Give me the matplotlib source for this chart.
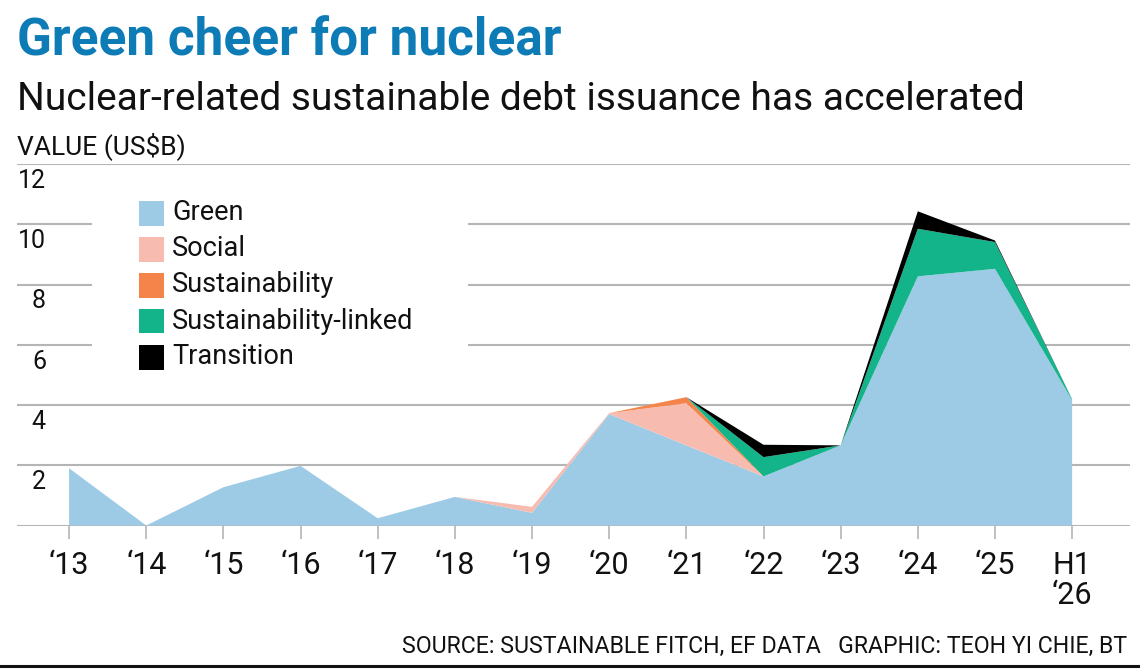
import matplotlib
matplotlib.use("Agg")
import matplotlib.pyplot as plt
import matplotlib.transforms as mtransforms
from matplotlib.patches import Rectangle
import numpy as np

# data (US$ billion)
years = ["\u201813", "\u201814", "\u201815", "\u201816", "\u201817", "\u201818", "\u201819",
         "\u201820", "\u201821", "\u201822", "\u201823", "\u201824", "\u201825", "H1\n\u201826"]
green = [1.90, 0.00, 1.27, 1.98, 0.24, 0.95, 0.42, 3.70, 2.66, 1.63, 2.66, 8.27, 8.52, 4.16]
social = [0.00, 0.00, 0.00, 0.00, 0.00, 0.00, 0.20, 0.03, 1.40, 0.00, 0.00, 0.00, 0.00, 0.00]
sustainability = [0.00, 0.00, 0.00, 0.00, 0.00, 0.00, 0.00, 0.00, 0.20, 0.00, 0.00, 0.00, 0.00, 0.00]
sus_linked = [0.00, 0.00, 0.00, 0.00, 0.00, 0.00, 0.00, 0.00, 0.00, 0.64, 0.00, 1.58, 0.89, 0.03]
transition = [0.00, 0.00, 0.00, 0.00, 0.00, 0.00, 0.00, 0.00, 0.00, 0.41, 0.00, 0.58, 0.05, 0.00]

series_names = ["Green", "Social", "Sustainability", "Sustainability-linked", "Transition"]
colours = ["#9dcbe6", "#f8bbb0", "#f4844a", "#14b48a", "#000000"]
y_ticks = [2, 4, 6, 8, 10, 12]

W, H = 1140, 669
fig = plt.figure(figsize=(W / 100, H / 100), dpi=100)
plt.rcParams['font.family'] = ['Roboto', 'DejaVu Sans']

# axes placed in pixel terms: x from 17 to 1130, y=0 at 525.5, y=12 at 164
ax = fig.add_axes([17 / W, 1 - 525.5 / H, (1130 - 17) / W, (525.5 - 164) / H])
x = np.arange(len(years))
ax.set_xlim(-0.675, 13.75)
ax.set_ylim(0, 12)

ax.stackplot(x, green, social, sustainability, sus_linked, transition,
             colors=colours, linewidth=0, zorder=2)

# gridlines behind the areas
for yv in [0] + y_ticks:
    ax.axhline(yv, color='#b5b5b5', lw=1.5, zorder=1)

for s in ax.spines.values():
    s.set_visible(False)
ax.set_yticks([])
ax.set_xticks(x)
ax.set_xticklabels(years, fontsize=22, linespacing=1.05)
ax.tick_params(axis='x', length=9, width=1.2, color='#b5b5b5', pad=9, labelcolor='#111111')

# y labels sit under each gridline
trans = mtransforms.offset_copy(ax.get_yaxis_transform(), fig=fig, x=0, y=-17, units='dots')
for yv in y_ticks:
    ax.text((46 - 17) / (1130 - 17), yv, str(yv), transform=trans, ha='right', va='center',
            fontsize=18, color='#111111')

# legend box (white, hides gridlines)
fig.patches.append(Rectangle((92 / W, 1 - 378 / H), (468 - 92) / W, (378 - 190) / H,
                             transform=fig.transFigure, facecolor='white', edgecolor='none', zorder=3))
for i, (name, c) in enumerate(zip(series_names, colours)):
    yc = 213 + i * 36
    fig.patches.append(Rectangle((139 / W, 1 - (yc + 12.5) / H), 25 / W, 25 / H,
                                 transform=fig.transFigure, facecolor=c, edgecolor='none', zorder=4))
    fig.text(172 / W, 1 - yc / H, name, fontsize=19.5, va='center', ha='left', color='#111111', zorder=5)

fig.text(17 / W, 1 - 42 / H, "Green cheer for nuclear", fontsize=37, fontweight='bold',
         color='#0c7bb6', va='center', ha='left')
fig.text(17 / W, 1 - 99 / H, "Nuclear-related sustainable debt issuance has accelerated",
         fontsize=28, color='#111111', va='center', ha='left')
fig.text(17 / W, 1 - 146 / H, "VALUE (US$B)", fontsize=19, color='#111111', va='center', ha='left')
fig.text(1127 / W, 1 - 646 / H, "SOURCE: SUSTAINABLE FITCH, EF DATA   GRAPHIC: TEOH YI CHIE, BT",
         fontsize=16.7, color='#111111', va='center', ha='right')

fig.lines.append(plt.Line2D([0, 1], [1 - 665.5 / H, 1 - 665.5 / H], transform=fig.transFigure,
                            color='#111111', lw=2.2))

fig.savefig("out.png", dpi=100)
